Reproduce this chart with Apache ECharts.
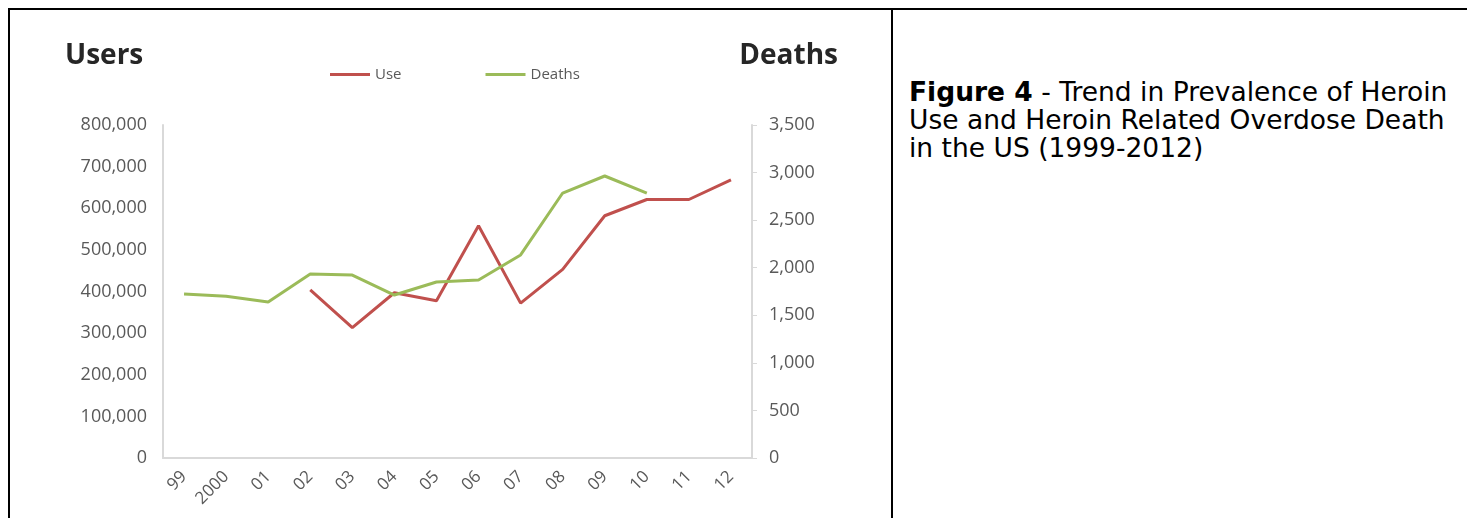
<!DOCTYPE html>
<html>
<head>
<meta charset="utf-8">
<script src="https://cdn.jsdelivr.net/npm/echarts@6/dist/echarts.min.js"></script>
<style>
  html, body { margin: 0; padding: 0; background: #fff; }
  body { width: 1467px; height: 518px; position: relative; overflow: hidden; }
  .frame-top { position: absolute; left: 8px; top: 8px; width: 1459px; height: 2px; background: #000; }
  .frame-left { position: absolute; left: 8px; top: 8px; width: 2px; height: 510px; background: #000; }
  .frame-mid { position: absolute; left: 891px; top: 8px; width: 2px; height: 510px; background: #000; }
  #chart { position: absolute; left: 0; top: 0; width: 891px; height: 518px; }
  .caption {
    position: absolute; left: 909px; top: 78px;
    font-family: "DejaVu Sans", Verdana, sans-serif;
    font-size: 26.5px; line-height: 28px; color: #000;
    white-space: nowrap;
  }
</style>
</head>
<body>
<div class="frame-top"></div>
<div class="frame-left"></div>
<div class="frame-mid"></div>
<div id="chart"></div>
<div class="caption"><b>Figure 4</b> - Trend in Prevalence of Heroin<br>Use and Heroin Related Overdose Death<br>in the US (1999-2012)</div>
<script>
// 年份（横轴标签）
var years = ['99', '2000', '01', '02', '03', '04', '05', '06', '07', '08', '09', '10', '11', '12'];

// 海洛因使用人数（左轴），1999-2001 无数据
var useValues = [null, null, null, 404000, 313000, 397000, 378000, 558000, 372000, 453000, 582000, 621000, 621000, 668000];

// 过量死亡人数（右轴），2011-2012 无数据
var deathValues = [1724, 1700, 1640, 1934, 1923, 1713, 1850, 1871, 2134, 2785, 2964, 2785, null, null];

var USE_COLOR = '#c0504d';
var DEATH_COLOR = '#9bbb59';
var AXIS_COLOR = '#d9d9d9';
var LABEL_COLOR = '#595959';
var FONT = '"Open Sans", Lato, sans-serif';

function withCommas(v) {
    return Number(v).toLocaleString('en-US');
}

var chart = echarts.init(document.getElementById('chart'));

chart.setOption({
    animation: false,
    graphic: [
        {
            type: 'text', left: 65, top: 42,
            style: { text: 'Users', fontFamily: FONT, fontSize: 28, fontWeight: 'bold', fill: '#262626' }
        },
        {
            type: 'text', right: 891 - 838, top: 42,
            style: { text: 'Deaths', fontFamily: FONT, fontSize: 28, fontWeight: 'bold', fill: '#262626' }
        }
    ],
    legend: {
        left: 325, top: 62,
        icon: 'rect', itemWidth: 40, itemHeight: 3, itemGap: 84,
        textStyle: { fontFamily: FONT, fontSize: 15, color: LABEL_COLOR },
        data: ['Use', 'Deaths']
    },
    grid: { left: 163, right: 891 - 752, top: 125, bottom: 518 - 458 },
    xAxis: {
        type: 'category',
        data: years,
        boundaryGap: true,
        axisLine: { lineStyle: { color: AXIS_COLOR, width: 2 } },
        axisTick: { show: false },
        axisLabel: { rotate: 45, margin: 16, fontFamily: FONT, fontSize: 17, color: LABEL_COLOR }
    },
    yAxis: [
        {
            type: 'value', position: 'left',
            min: 0, max: 800000, interval: 100000,
            axisLine: { show: true, lineStyle: { color: AXIS_COLOR, width: 2 } },
            axisTick: { show: false },
            splitLine: { show: false },
            axisLabel: { margin: 16, fontFamily: FONT, fontSize: 18, color: LABEL_COLOR, formatter: withCommas }
        },
        {
            type: 'value', position: 'right',
            min: 0, max: 3500, interval: 500,
            axisLine: { show: true, lineStyle: { color: AXIS_COLOR, width: 2 } },
            axisTick: { show: true, length: 5, lineStyle: { color: AXIS_COLOR } },
            splitLine: { show: false },
            axisLabel: { margin: 17, fontFamily: FONT, fontSize: 18, color: LABEL_COLOR, formatter: withCommas }
        }
    ],
    series: [
        {
            name: 'Use', type: 'line', yAxisIndex: 0,
            data: useValues, symbol: 'none',
            lineStyle: { color: USE_COLOR, width: 3 },
            itemStyle: { color: USE_COLOR }
        },
        {
            name: 'Deaths', type: 'line', yAxisIndex: 1,
            data: deathValues, symbol: 'none',
            lineStyle: { color: DEATH_COLOR, width: 3 },
            itemStyle: { color: DEATH_COLOR }
        }
    ]
});
</script>
</body>
</html>
